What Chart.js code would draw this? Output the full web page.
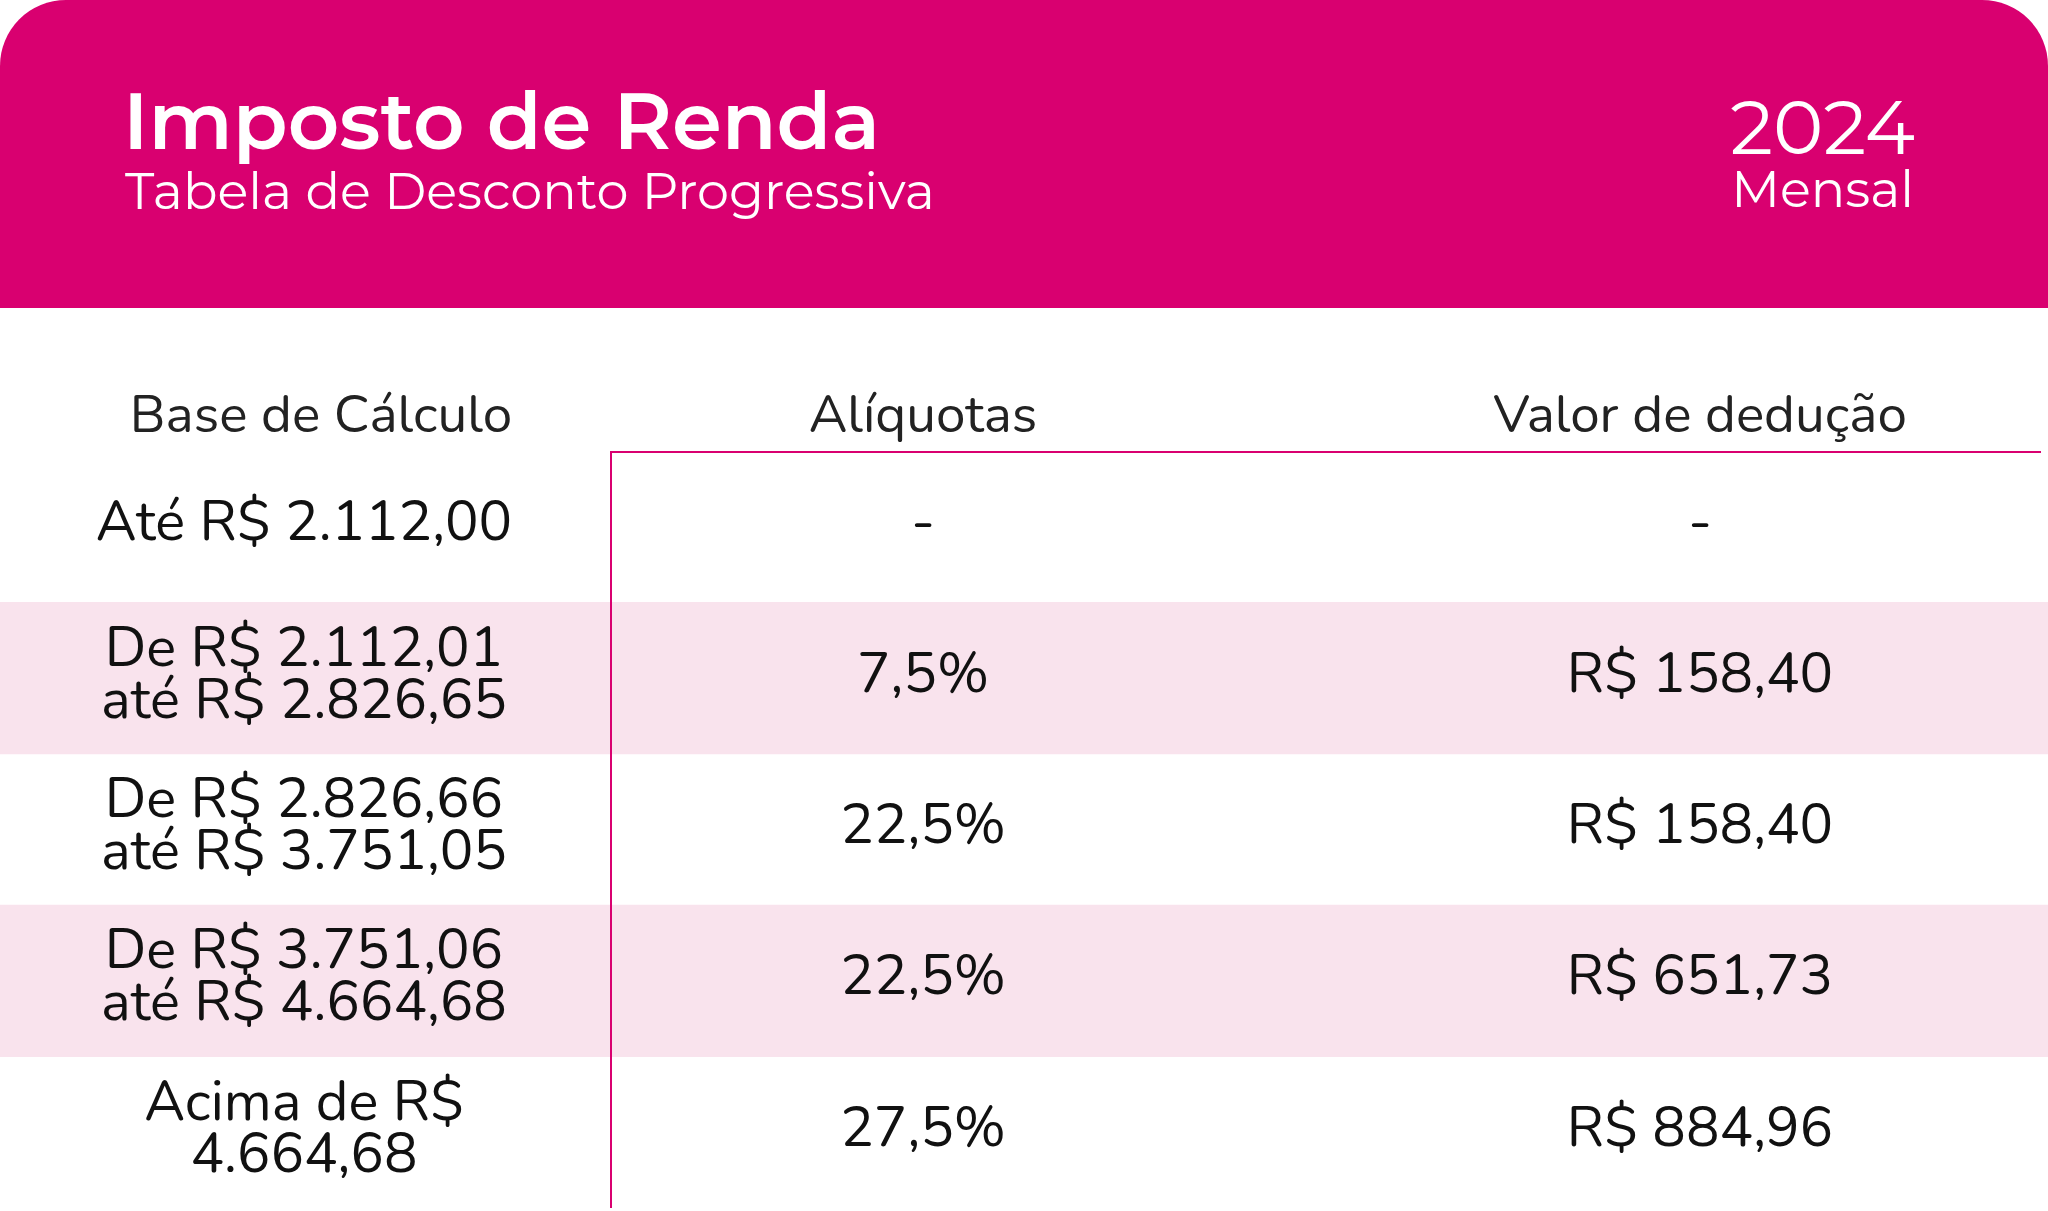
<!DOCTYPE html>
<html><head><meta charset="utf-8">
<script src="https://cdn.jsdelivr.net/npm/chart.js@4.4.1/dist/chart.umd.min.js"></script>
<style>
body{margin:0;width:2048px;height:1211px;background:#fff;position:relative;overflow:hidden;font-family:"Nunito","Lato",sans-serif}
#head{position:absolute;left:0;top:0;width:2048px;height:308px;background:#d90070;border-radius:66px 66px 0 0;color:#fff}
.t{position:absolute;font-family:"Montserrat","Open Sans",sans-serif;white-space:nowrap}
.col{position:absolute;top:378px;font-size:53px;color:#222;transform:translateX(-50%);white-space:nowrap}
#wrap{position:absolute;left:0;top:451px;width:2048px;height:757px}
</style></head><body>
<div id="head">
<div class="t" style="left:123px;top:72px;font-size:80px;font-weight:600">Imposto de Renda</div>
<div class="t" style="left:125px;top:160px;font-size:51px">Tabela de Desconto Progressiva</div>
<div class="t" style="right:133px;top:80px;font-size:76px">2024</div>
<div class="t" style="right:134px;top:158px;font-size:51px">Mensal</div>
</div>
<div id="cols"></div>
<div id="wrap"><canvas id="c"></canvas></div>
<script>
const headers = ["Base de Cálculo", "Alíquotas", "Valor de dedução"]
const bases = ["Até R$ 2.112,00", "De R$ 2.112,01\naté R$ 2.826,65", "De R$ 2.826,66\naté R$ 3.751,05", "De R$ 3.751,06\naté R$ 4.664,68", "Acima de R$\n4.664,68"]
const rates = ["-", "7,5%", "22,5%", "22,5%", "27,5%"]
const deductions = ["-", "R$ 158,40", "R$ 158,40", "R$ 651,73", "R$ 884,96"]
const striped = [false, true, false, true, false]

const colX = [304, 923, 1700]
const headX = [321, 923, 1700]
headers.forEach((h, i) => {
    let d = document.createElement("div")
    d.className = "col"
    d.style.left = headX[i] + "px"
    d.textContent = h
    document.getElementById("cols").appendChild(d)
})

const tablePlugin = {
    id: "table",
    beforeDatasetsDraw(chart) {},
    afterDatasetsDraw(chart) {
        let c = chart.ctx, a = chart.chartArea, x = chart.scales.x, y = chart.scales.y
        c.save()
        c.strokeStyle = "#d90070"
        c.lineWidth = 2
        c.beginPath()
        c.moveTo(x.getPixelForValue(611), a.top + 1)
        c.lineTo(x.getPixelForValue(2041), a.top + 1)
        c.moveTo(x.getPixelForValue(611), a.top)
        c.lineTo(x.getPixelForValue(611), a.bottom)
        c.stroke()
        c.fillStyle = "#111"
        c.font = "56px Nunito, Lato, sans-serif"
        c.textAlign = "center"
        c.textBaseline = "middle"
        bases.forEach((b, i) => {
            let cy = y.getPixelForValue(i)
            let lines = b.split("\n")
            lines.forEach((l, k) => {
                c.fillText(l, x.getPixelForValue(colX[0]), cy + (k - (lines.length - 1) / 2) * 52)
            })
            c.fillText(rates[i], x.getPixelForValue(colX[1]), cy)
            c.fillText(deductions[i], x.getPixelForValue(colX[2]), cy)
        })
        c.restore()
    }
}

new Chart(document.getElementById("c"), {
    type: "bar",
    data: {
        labels: bases,
        datasets: [{
            data: striped.map(s => s ? [0, 2048] : null),
            backgroundColor: "#f9e3ed",
            barPercentage: 1,
            categoryPercentage: 1
        }]
    },
    options: {
        indexAxis: "y",
        responsive: true,
        maintainAspectRatio: false,
        animation: false,
        layout: { padding: 0 },
        plugins: { legend: { display: false }, tooltip: { enabled: false } },
        scales: {
            x: { display: false, min: 0, max: 2048 },
            y: { display: false }
        }
    },
    plugins: [tablePlugin]
})
</script>
</body></html>
